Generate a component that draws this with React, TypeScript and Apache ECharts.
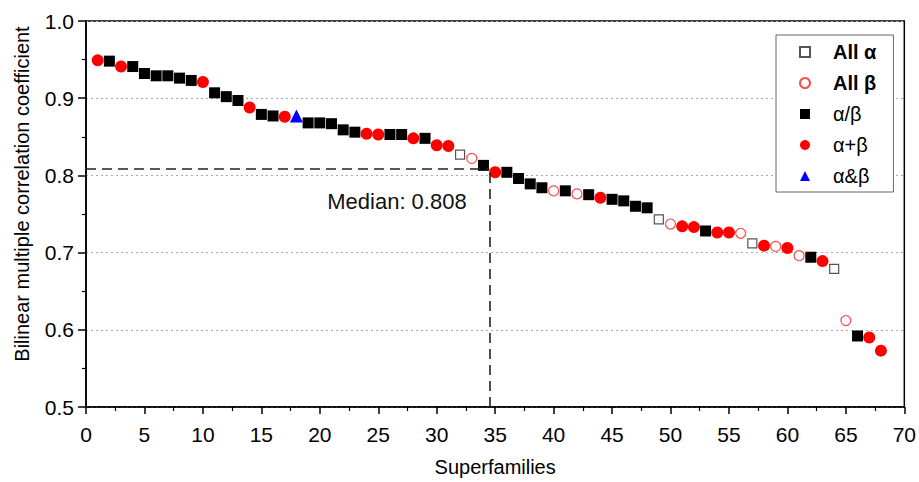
import React, { useEffect, useRef } from "react";
import * as echarts from "echarts";

// [superfamily rank, bilinear multiple correlation coefficient]
const allAlpha: number[][] = [[32, 0.827], [49, 0.743], [57, 0.712], [64, 0.679]];
const allBeta: number[][] = [[33, 0.822], [40, 0.780], [42, 0.776], [50, 0.737], [56, 0.725], [59, 0.708], [61, 0.696], [65, 0.612]];
const alphaSlashBeta: number[][] = [
  [2, 0.948], [4, 0.941], [5, 0.932], [6, 0.929], [7, 0.929], [8, 0.926], [9, 0.923],
  [11, 0.907], [12, 0.902], [13, 0.897], [15, 0.879], [16, 0.877], [19, 0.868], [20, 0.868],
  [21, 0.867], [22, 0.859], [23, 0.856], [26, 0.853], [27, 0.853], [29, 0.848], [34, 0.813],
  [36, 0.804], [37, 0.796], [38, 0.789], [39, 0.784], [41, 0.780], [43, 0.775], [45, 0.769],
  [46, 0.767], [47, 0.760], [48, 0.758], [53, 0.728], [62, 0.694], [66, 0.592],
];
const alphaPlusBeta: number[][] = [
  [1, 0.949], [3, 0.941], [10, 0.921], [14, 0.888], [17, 0.876], [24, 0.854], [25, 0.853],
  [28, 0.848], [30, 0.839], [31, 0.838], [35, 0.804], [44, 0.771], [51, 0.734], [52, 0.733],
  [54, 0.726], [55, 0.726], [58, 0.709], [60, 0.706], [63, 0.689], [67, 0.590], [68, 0.573],
];
const alphaAndBeta: number[][] = [[18, 0.877]];

const seriesNames = ["All \u03b1", "All \u03b2", "\u03b1/\u03b2", "\u03b1+\u03b2", "\u03b1&\u03b2"];
const median = [34.5, 0.808];
const medianLabel = "Median: 0.808";
const medianLabelAt = [26.6, 0.766];

const FONT = "'Liberation Sans', Arial, sans-serif";

export default function App() {
  const ref = useRef<HTMLDivElement>(null);
  useEffect(() => {
    if (!ref.current) return;
    const chart = echarts.init(ref.current, undefined, { renderer: "svg" });
    const dash = { color: "#222", width: 1.6, type: [10, 6] as any };
    chart.setOption({
      animation: false,
      backgroundColor: "#fff",
      textStyle: { fontFamily: FONT },
      grid: {
        left: 86, right: 13, top: 21, bottom: 75,
        show: true, borderColor: "#000", borderWidth: 1.5, backgroundColor: "transparent",
      },
      legend: {
        orient: "vertical",
        left: 776, top: 35,
        padding: [7, 17, 6, 23],
        itemGap: 11,
        itemWidth: 10, itemHeight: 10,
        borderColor: "#666", borderWidth: 1,
        backgroundColor: "#fff",
        data: seriesNames,
        formatter: (name: string) => (name.startsWith("All") ? `{s| }{b|${name}}` : `{s| }{n|${name}}`),
        textStyle: {
          fontFamily: FONT,
          rich: {
            s: { fontFamily: FONT, fontSize: 20, width: 18, lineHeight: 22 },
            b: { fontFamily: FONT, fontSize: 20, fontWeight: "bold", color: "#000", lineHeight: 22 },
            n: { fontFamily: FONT, fontSize: 20, color: "#000", lineHeight: 22 },
          },
        },
      },
      xAxis: {
        type: "value", min: 0, max: 70, interval: 5,
        name: "Superfamilies", nameLocation: "middle", nameGap: 50,
        nameTextStyle: { fontFamily: FONT, fontSize: 20, color: "#000" },
        axisLine: { show: true, onZero: false, lineStyle: { color: "#000", width: 1.5 } },
        axisTick: { show: true, inside: false, length: 7, lineStyle: { color: "#000", width: 1.5 } },
        minorTick: { show: true, splitNumber: 2, length: 4, lineStyle: { color: "#000", width: 1.2 } },
        axisLabel: { fontFamily: FONT, fontSize: 21, color: "#000", margin: 17 },
        splitLine: { show: false },
      },
      yAxis: {
        type: "value", min: 0.5, max: 1.0, interval: 0.1,
        name: "Bilinear multiple correlation coefficient", nameLocation: "middle", nameGap: 54,
        nameTextStyle: { fontFamily: FONT, fontSize: 20, color: "#000", padding: [0, 0, 0, 40] },
        axisLine: { show: true, onZero: false, lineStyle: { color: "#000", width: 1.5 } },
        axisTick: { show: true, inside: false, length: 8, lineStyle: { color: "#000", width: 1.5 } },
        minorTick: { show: true, splitNumber: 2, length: 4, lineStyle: { color: "#000", width: 1.2 } },
        axisLabel: {
          fontFamily: FONT, fontSize: 21, color: "#000", margin: 12,
          formatter: (v: number) => v.toFixed(1),
        },
        splitLine: { show: true, lineStyle: { color: "#aaa", type: [2, 3] as any, width: 1 } },
      },
      series: [
        {
          name: seriesNames[0], type: "scatter", data: allAlpha, symbol: "rect", symbolSize: 9, z: 3,
          itemStyle: { color: "#fff", borderColor: "#555", borderWidth: 1.2, opacity: 1 },
        },
        {
          name: seriesNames[1], type: "scatter", data: allBeta, symbol: "circle", symbolSize: 10, z: 3,
          itemStyle: { color: "#fff", borderColor: "#ff4a4a", borderWidth: 1.2, opacity: 1 },
        },
        {
          name: seriesNames[2], type: "scatter", data: alphaSlashBeta, symbol: "rect", symbolSize: 11, z: 3,
          itemStyle: { color: "#000", opacity: 1 },
          markLine: {
            silent: true, symbol: "none", label: { show: false }, lineStyle: dash,
            data: [
              [{ coord: [0, median[1]] }, { coord: [median[0], median[1]] }],
              [{ coord: [median[0], 0.5] }, { coord: [median[0], median[1]] }],
            ],
          },
        },
        {
          name: seriesNames[3], type: "scatter", data: alphaPlusBeta, symbol: "circle", symbolSize: 12, z: 3,
          itemStyle: { color: "#ff0000", opacity: 1 },
          markPoint: {
            silent: true, symbol: "circle", symbolSize: 0,
            label: { show: true, position: "inside", formatter: medianLabel, fontFamily: FONT, fontSize: 22, color: "#111" },
            data: [{ coord: medianLabelAt }],
          },
        },
        {
          name: seriesNames[4], type: "scatter", data: alphaAndBeta, symbol: "triangle", symbolSize: 13, z: 3,
          itemStyle: { color: "#0000ff", opacity: 1 },
        },
      ],
    });
    return () => chart.dispose();
  }, []);
  return <div ref={ref} style={{ position: "fixed", left: 0, top: 0, width: 919, height: 482 }} />;
}
